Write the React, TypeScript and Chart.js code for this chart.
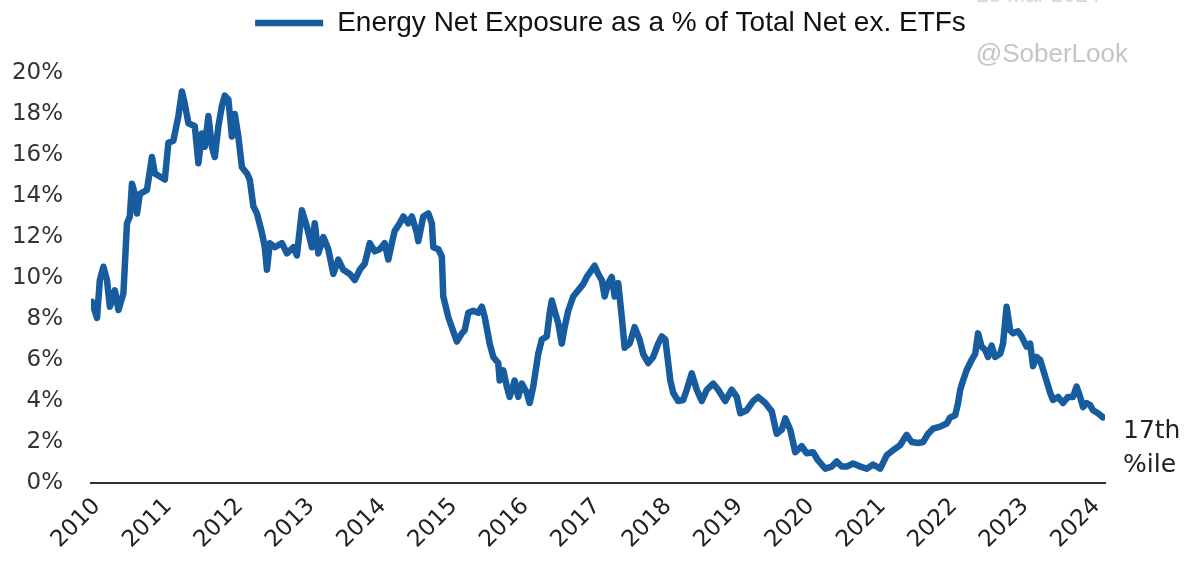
import React, { useEffect, useRef } from 'react';
import { Chart, registerables } from 'chart.js';

Chart.register(...registerables);

// ---- Data ----
const SERIES_LABEL = 'Energy Net Exposure as a % of Total Net ex. ETFs';
const WATERMARK = '@SoberLook';
const DATE_STAMP = '28 Mar 2024';
const ANNOTATION_LINES = ['17th', '%ile'];

const YEARS = [
  2009.93, 2010.0, 2010.04, 2010.09, 2010.14, 2010.18, 2010.25, 2010.3, 2010.37, 2010.42,
  2010.46, 2010.49, 2010.53, 2010.56, 2010.6, 2010.7, 2010.77, 2010.81, 2010.88, 2010.95,
  2011.0, 2011.07, 2011.14, 2011.19, 2011.23, 2011.28, 2011.37, 2011.42, 2011.47, 2011.51,
  2011.56, 2011.61, 2011.65, 2011.7, 2011.75, 2011.79, 2011.84, 2011.89, 2011.93, 2011.98,
  2012.03, 2012.1, 2012.14, 2012.19, 2012.24, 2012.31, 2012.35, 2012.38, 2012.42, 2012.49,
  2012.59, 2012.66, 2012.75, 2012.8, 2012.87, 2012.94, 2013.01, 2013.05, 2013.1, 2013.17,
  2013.24, 2013.31, 2013.38, 2013.45, 2013.54, 2013.61, 2013.68, 2013.75, 2013.82, 2013.89,
  2013.96, 2014.03, 2014.08, 2014.13, 2014.17, 2014.24, 2014.29, 2014.36, 2014.41, 2014.48,
  2014.5, 2014.57, 2014.64, 2014.69, 2014.71, 2014.78, 2014.83, 2014.85, 2014.92, 2014.97,
  2015.04, 2015.11, 2015.15, 2015.2, 2015.27, 2015.34, 2015.39, 2015.43, 2015.5, 2015.55,
  2015.62, 2015.64, 2015.69, 2015.74, 2015.78, 2015.85, 2015.9, 2015.95, 2016.02, 2016.06,
  2016.11, 2016.18, 2016.23, 2016.3, 2016.34, 2016.37, 2016.41, 2016.46, 2016.51, 2016.55,
  2016.6, 2016.67, 2016.74, 2016.81, 2016.86, 2016.93, 2016.97, 2017.02, 2017.07, 2017.11,
  2017.16, 2017.21, 2017.25, 2017.3, 2017.35, 2017.39, 2017.46, 2017.53, 2017.6, 2017.65,
  2017.72, 2017.79, 2017.86, 2017.91, 2017.96, 2018.03, 2018.07, 2018.14, 2018.21, 2018.26,
  2018.33, 2018.4, 2018.47, 2018.54, 2018.63, 2018.7, 2018.8, 2018.89, 2018.96, 2019.01,
  2019.1, 2019.19, 2019.26, 2019.36, 2019.45, 2019.52, 2019.59, 2019.64, 2019.71, 2019.78,
  2019.87, 2019.94, 2020.03, 2020.1, 2020.2, 2020.29, 2020.36, 2020.43, 2020.5, 2020.59,
  2020.69, 2020.78, 2020.87, 2020.97, 2021.06, 2021.15, 2021.25, 2021.34, 2021.41, 2021.5,
  2021.57, 2021.64, 2021.71, 2021.81, 2021.9, 2021.95, 2022.02, 2022.06, 2022.09, 2022.13,
  2022.18, 2022.25, 2022.3, 2022.34, 2022.39, 2022.44, 2022.48, 2022.53, 2022.58, 2022.65,
  2022.69, 2022.74, 2022.79, 2022.83, 2022.9, 2022.95, 2023.02, 2023.07, 2023.11, 2023.16,
  2023.21, 2023.28, 2023.35, 2023.39, 2023.46, 2023.53, 2023.6, 2023.67, 2023.72, 2023.77,
  2023.81, 2023.86, 2023.91, 2023.95, 2024.02, 2024.09,
];

const VALUES = [
  8.84, 8.05, 9.9, 10.55, 9.9, 8.6, 9.4, 8.44, 9.25, 12.67,
  13.0, 14.6, 14.1, 13.15, 14.1, 14.3, 15.9, 15.1, 14.95, 14.8,
  16.6, 16.7, 17.9, 19.1, 18.5, 17.55, 17.4, 15.6, 17.05, 16.4,
  17.9, 16.4, 15.9, 17.4, 18.4, 18.9, 18.7, 16.9, 18.0, 16.9,
  15.4, 15.1, 14.8, 13.5, 13.15, 12.2, 11.5, 10.4, 11.7, 11.5,
  11.7, 11.2, 11.5, 11.1, 13.3, 12.5, 11.5, 12.67, 11.2, 12.0,
  11.4, 10.2, 10.9, 10.4, 10.2, 9.9, 10.4, 10.7, 11.7, 11.3,
  11.4, 11.7, 10.9, 11.7, 12.3, 12.67, 13.0, 12.67, 13.0, 12.2,
  11.8, 13.0, 13.15, 12.67, 11.5, 11.4, 11.05, 9.1, 8.1, 7.6,
  6.9, 7.3, 7.45, 8.3, 8.4, 8.3, 8.6, 8.1, 6.8, 6.15,
  5.85, 5.0, 5.5, 4.7, 4.2, 5.0, 4.2, 4.85, 4.4, 3.9,
  4.7, 6.3, 7.0, 7.15, 8.3, 8.9, 8.4, 7.8, 6.8, 7.6,
  8.4, 9.1, 9.4, 9.7, 10.05, 10.4, 10.6, 10.2, 9.9, 9.1,
  9.75, 10.05, 9.1, 9.75, 8.1, 6.6, 6.8, 7.6, 7.0, 6.3,
  5.85, 6.15, 6.8, 7.15, 7.0, 5.0, 4.4, 4.0, 4.05, 4.55,
  5.35, 4.55, 4.0, 4.55, 4.85, 4.55, 4.0, 4.55, 4.2, 3.4,
  3.55, 4.0, 4.2, 3.9, 3.5, 2.4, 2.6, 3.15, 2.6, 1.5,
  1.8, 1.45, 1.5, 1.1, 0.7, 0.8, 1.05, 0.8, 0.8, 0.95,
  0.8, 0.7, 0.9, 0.7, 1.35, 1.6, 1.85, 2.35, 2.0, 1.95,
  2.0, 2.4, 2.65, 2.75, 2.9, 3.2, 3.3, 3.9, 4.55, 5.0,
  5.5, 6.0, 6.3, 7.3, 6.65, 6.5, 6.15, 6.7, 6.15, 6.3,
  6.8, 8.6, 7.45, 7.3, 7.4, 7.15, 6.65, 6.8, 5.7, 6.15,
  6.0, 5.2, 4.4, 4.05, 4.2, 3.9, 4.2, 4.2, 4.7, 4.2,
  3.7, 3.9, 3.8, 3.55, 3.4, 3.2,
];

const X_TICKS = [2010, 2011, 2012, 2013, 2014, 2015, 2016, 2017, 2018, 2019, 2020, 2021, 2022, 2023, 2024];
const Y_TICKS = [0, 2, 4, 6, 8, 10, 12, 14, 16, 18, 20];
const X_MIN = 2009.916;
const X_MAX = 2024.118;

const LINE_COLOR = '#165c9f';

export default function App() {
  const canvasRef = useRef<HTMLCanvasElement | null>(null);

  useEffect(() => {
    const canvas = canvasRef.current;
    if (!canvas) return;

    const legendTweakPlugin = {
      id: 'legendTweak',
      beforeInit(chart: any) {
        const legend = chart.legend;
        if (!legend) return;
        const origFit = legend.fit;
        legend.fit = function () {
          origFit.call(this);
          this.height = 73;
        };
        const origDraw = legend.draw;
        legend.draw = function () {
          const ctx = this.ctx;
          ctx.save();
          ctx.translate(58, 0);
          origDraw.call(this);
          ctx.restore();
        };
      },
    };

    const decorPlugin = {
      id: 'decor',
      afterDraw(chart: any) {
        const { ctx, chartArea, scales } = chart;
        ctx.save();
        // watermark
        ctx.fillStyle = '#c5c5c5';
        ctx.font = '26px "Liberation Sans", Arial, sans-serif';
        ctx.textAlign = 'right';
        ctx.textBaseline = 'alphabetic';
        ctx.fillText(WATERMARK, 1128, 62);
        // cut-off date stamp
        ctx.fillStyle = '#d6d6d6';
        ctx.font = '22px "Liberation Sans", Arial, sans-serif';
        ctx.fillText(DATE_STAMP, 1100, 2);
        // annotation
        const y0 = scales.y.getPixelForValue(0);
        ctx.fillStyle = '#222';
        ctx.font = '25px "DejaVu Sans", sans-serif';
        ctx.textAlign = 'left';
        ctx.fillText(ANNOTATION_LINES[0], chartArea.right + 18, y0 - 45);
        ctx.fillText(ANNOTATION_LINES[1], chartArea.right + 18, y0 - 11);
        ctx.restore();
      },
    };

    const chart = new Chart(canvas, {
      type: 'line',
      data: {
        datasets: [
          {
            label: SERIES_LABEL,
            data: YEARS.map((x, i) => ({ x, y: VALUES[i] })),
            borderColor: LINE_COLOR,
            backgroundColor: LINE_COLOR,
            borderWidth: 6.5,
            pointRadius: 0,
            tension: 0,
            borderJoinStyle: 'round',
            borderCapStyle: 'round',
          },
        ],
      },
      options: {
        responsive: false,
        animation: false,
        devicePixelRatio: 1,
        layout: { padding: { left: 0, right: 90, top: 0, bottom: 0 } },
        plugins: {
          legend: {
            display: true,
            position: 'top',
            align: 'center',
            labels: {
              usePointStyle: true,
              pointStyle: 'line',
              pointStyleWidth: 68,
              padding: 9,
              color: '#111',
              font: { family: '"Liberation Sans", Arial, sans-serif', size: 28 },
            },
          },
          tooltip: { enabled: false },
        },
        scales: {
          x: {
            type: 'linear',
            min: X_MIN,
            max: X_MAX,
            afterBuildTicks: (axis: any) => {
              axis.ticks = X_TICKS.map((v) => ({ value: v }));
            },
            afterFit: (axis: any) => {
              axis.height = 82;
            },
            ticks: {
              autoSkip: false,
              minRotation: 45,
              maxRotation: 45,
              padding: 10,
              color: '#222',
              font: { family: '"DejaVu Sans", sans-serif', size: 23 },
              callback: (v: any) => String(v),
            },
            grid: { display: false, drawTicks: false },
            border: { display: true, color: '#333', width: 2 },
          },
          y: {
            type: 'linear',
            min: 0,
            max: 20,
            afterBuildTicks: (axis: any) => {
              axis.ticks = Y_TICKS.map((v) => ({ value: v }));
            },
            afterFit: (axis: any) => {
              axis.width = 91;
            },
            ticks: {
              padding: 28,
              color: '#333',
              font: { family: '"DejaVu Sans", sans-serif', size: 23 },
              callback: (v: any) => v + '%',
            },
            grid: { display: false, drawTicks: false },
            border: { display: false },
          },
        },
      },
      plugins: [legendTweakPlugin, decorPlugin],
    } as any);

    return () => chart.destroy();
  }, []);

  return (
    <div style={{ position: 'fixed', left: 0, top: 0, width: 1195, height: 565, background: '#fff' }}>
      <canvas ref={canvasRef} width={1195} height={565} />
    </div>
  );
}
